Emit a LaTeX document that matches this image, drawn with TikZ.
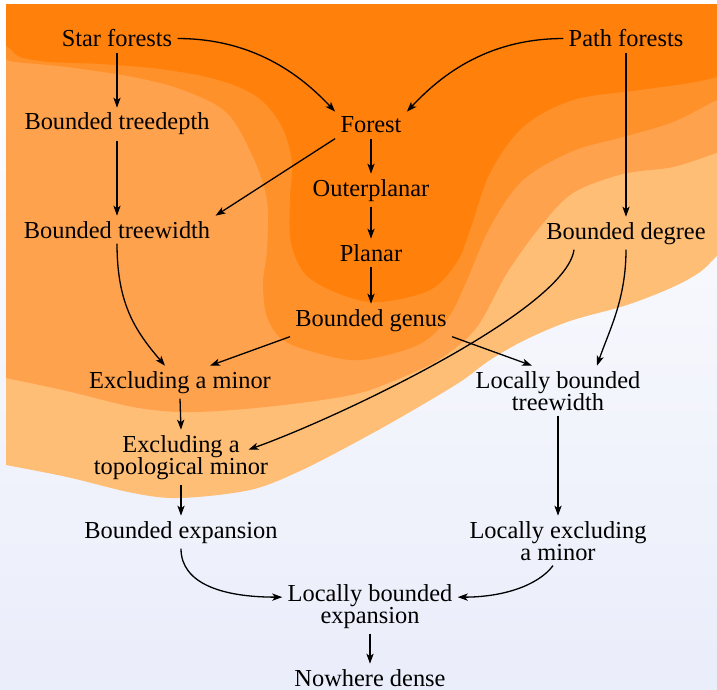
\documentclass[tikz,border=0pt]{standalone}
\usepackage{fontspec}
\setmainfont{Liberation Serif}
\usetikzlibrary{arrows.meta}

\definecolor{bgLav}{RGB}{234,237,250}
\definecolor{bandD}{RGB}{255,128,10}
\definecolor{bandM}{RGB}{255,145,42}
\definecolor{bandL}{RGB}{255,162,77}
\definecolor{bandLL}{RGB}{255,190,118}

\newcommand\classfont{\fontsize{12.2}{11}\selectfont\lineskiplimit=-10pt\relax}

\begin{document}
\begin{tikzpicture}[x=0.5pt,y=-0.5pt,
  cls/.style={font=\classfont, inner sep=2.5pt, align=center, anchor=base},
  imp/.style={-{Stealth[length=5pt,width=3.6pt,inset=1.3pt]}, line width=0.65pt},
  smoothband/.style={smooth, tension=0.55}]

\useasboundingbox (0,0) rectangle (717,690);

% background wash
\shade[top color=white, bottom color=bgLav] (0,0) rectangle (717,690);

% nested class regions, outermost first
\begin{scope}
  \clip (6,5) rectangle (717,690);
  \fill[bandLL] (-10,-10) -- (730,-10) -- plot[smoothband] coordinates {
    (730,246) (717,256) (700,272) (673,287) (627,305) (570,321) (525,340)
    (490,360) (460,382) (410,412) (360,440) (300,471) (250,490) (180,498)
    (133,493) (67,477) (6,465) (-10,462)} -- cycle;
  \fill[bandL] (-10,-10) -- (730,-10) -- plot[smoothband] coordinates {
    (730,150) (717,153) (673,167) (623,174) (573,193) (540,227) (507,273)
    (477,327) (443,357) (410,374) (360,393) (300,403) (233,410) (180,412)
    (133,407) (67,391) (6,378) (-10,375)} -- cycle;
  \fill[bandM] (-10,-10) -- (730,-10) -- plot[smoothband] coordinates {
    (730,97) (717,100) (673,122) (623,137) (573,151) (523,180) (490,227)
    (467,280) (448,318) (418,345) (360,360) (317,353) (283,340) (267,317)
    (263,283) (267,250) (267,200) (253,157) (227,113) (183,90) (133,77)
    (67,67) (15,62) (6,59) (-10,57)} -- cycle;
  \fill[bandD] (-10,-10) -- (730,-10) -- plot[smoothband] coordinates {
    (730,74) (717,77) (690,83) (640,90) (573,100) (523,127) (490,173)
    (470,230) (457,262) (430,290) (380,302) (345,296) (307,276) (291,243)
    (290,200) (292,162) (281,125) (256,96) (215,79) (160,69) (100,64)
    (50,62) (20,57) (8,47) (-10,40)} -- cycle;
\end{scope}

% graph classes (two-line labels sit on the baseline of their last line)
\node[cls] (star)   at (117,47)  {Star forests};
\node[cls] (path)   at (626,47)  {Path forests};
\node[cls] (td)     at (117,130) {Bounded treedepth};
\node[cls] (forest) at (371,133) {Forest};
\node[cls] (outer)  at (371,196) {Outerplanar};
\node[cls] (tw)     at (117,238) {Bounded treewidth};
\node[cls] (deg)    at (626,239) {Bounded degree};
\node[cls] (planar) at (371,261) {Planar};
\node[cls] (genus)  at (371,326) {Bounded genus};
\node[cls] (exmin)  at (180,388) {Excluding a minor};
\node[cls] (lbtw)   at (558,410) {Locally bounded\\treewidth};
\node[cls] (etm)    at (181,474) {Excluding a\\topological minor};
\node[cls] (bexp)   at (181,538) {Bounded expansion};
\node[cls] (lem)    at (558,560) {Locally excluding\\a minor};
\node[cls] (lbe)    at (370,623) {Locally bounded\\expansion};
\node[cls] (nd)     at (370,686) {Nowhere dense};

% inclusions
\draw[imp] (star.east) .. controls +(80,0) and +(-30,-32) .. (forest.north west);
\draw[imp] (path.west) .. controls +(-80,0) and +(30,-32) .. (forest.north east);
\draw[imp] (star.south) -- (td.north);
\draw[imp] (td.south) -- (tw.north);
\draw[imp] (forest.south west) -- (tw.north east);
\draw[imp] (forest.south) -- (outer.north);
\draw[imp] (outer.south) -- (planar.north);
\draw[imp] (planar.south) -- (genus.north);
\draw[imp] (path.south) -- (deg.north);
\draw[imp] (tw.south) .. controls +(0,60) and +(-30,-35) .. ([xshift=-7.5pt]exmin.north);
\draw[imp] (genus.south west) -- ([xshift=15pt]exmin.north);
\draw[imp] (genus.south east) -- ([xshift=-13pt]lbtw.north);
\draw[imp] (deg.south) .. controls +(0,50) and +(12,-35) .. ([xshift=19.5pt]lbtw.north);
\draw[imp] ([xshift=-26pt]deg.south) .. controls +(-8,60) and +(90,-32) .. ([xshift=-12.5pt,yshift=-10pt]etm.north east);
\draw[imp] (exmin.south) -- (etm.north);
\draw[imp] (lbtw.south) -- (lem.north);
\draw[imp] (etm.south) -- (bexp.north);
\draw[imp] (bexp.south) .. controls +(0,35) and +(-60,0) .. ([yshift=4.5pt]lbe.west);
\draw[imp] ([xshift=-2.5pt]lem.south) .. controls +(-15,20) and +(45,0) .. ([yshift=4.5pt]lbe.east);
\draw[imp] (lbe.south) -- (nd.north);

\end{tikzpicture}
\end{document}
